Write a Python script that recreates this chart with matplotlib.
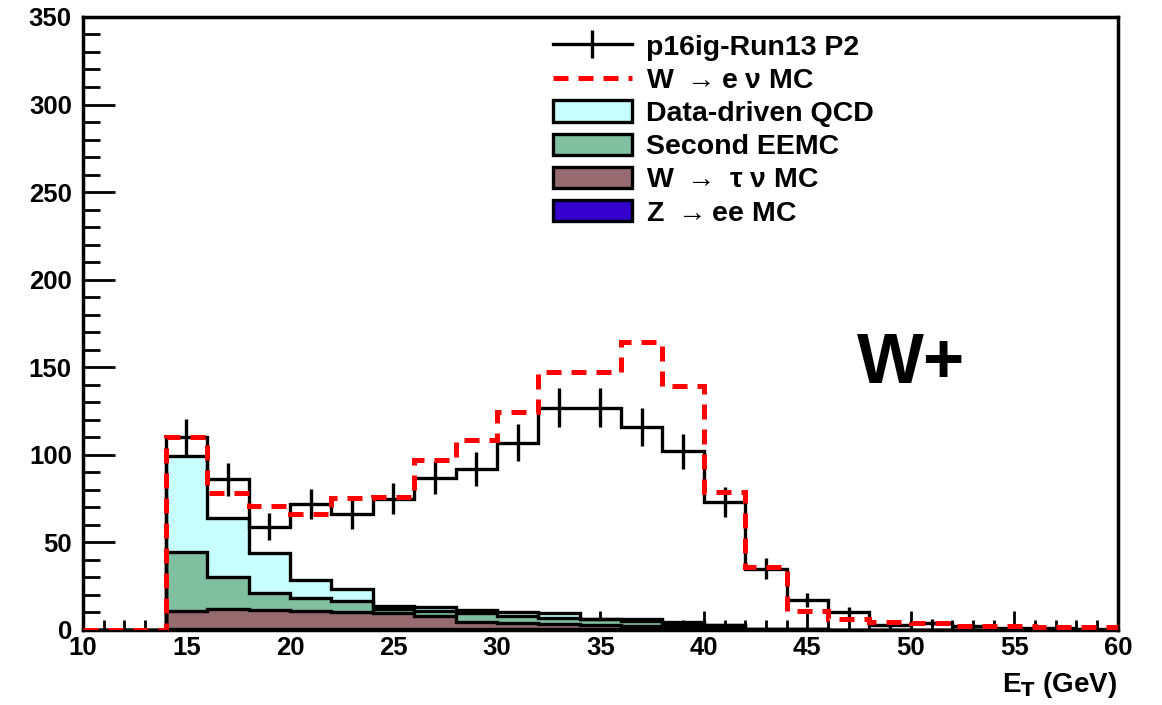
import numpy as np
import matplotlib.pyplot as plt
from matplotlib.lines import Line2D
from matplotlib.patches import Patch

plt.rcParams['font.family'] = ['Liberation Sans', 'DejaVu Sans']
plt.rcParams['font.weight'] = 'bold'
plt.rcParams['mathtext.default'] = 'regular'

# 2 GeV bins from 10 to 60
edges = np.arange(10, 62, 2)

data = [0, 0, 110, 86, 59, 72, 66, 75, 87, 92, 107, 127, 127, 116, 102, 73, 35,
        17, 10, 3, 4, 2, 1, 1, 0.5]
w_enu = [0, 0, 110, 78, 71, 66, 75.5, 76, 97, 108.5, 124.5, 147, 147.5, 164.5,
         139.5, 79, 36, 11, 6, 4.5, 3.8, 2, 2, 1.5, 1.5]
qcd = [0, 0, 55, 34, 23, 10.5, 7, 1.7, 2, 2, 2, 2.5, 0, 1, 1, 0, 0,
       0, 0, 0, 0, 0, 0, 0, 0]
eemc = [0, 0, 33.5, 18, 9.5, 7, 6, 2.5, 3, 5, 4, 3.5, 3, 2.5, 1.7, 1.7, 0,
        0, 0, 0, 0, 0, 0, 0, 0]
w_tau = [0, 0, 10.5, 11.5, 11, 10.5, 10, 9, 7.5, 4, 3.5, 3, 2.5, 2, 1.5, 1, 0.5,
         0.3, 0.1, 0, 0, 0, 0, 0, 0]
z_ee = [0, 0, 0.5, 0.5, 0.5, 0.5, 0.5, 0.5, 0.5, 0.5, 0.5, 0.5, 0.5, 0.5, 0.3, 0.3, 0.2,
        0.1, 0, 0, 0, 0, 0, 0, 0]

c_qcd = '#c8ffff'
c_eemc = '#80c0a0'
c_tau = '#966a6e'
c_z = '#3300cc'

fig = plt.figure(figsize=(11.62, 7.05), dpi=100)
ax = fig.add_axes([0.0714, 0.1064, 0.8906, 0.8696])

# stack: Z -> ee at the bottom, then W -> tau, second EEMC, QCD
z = np.array(z_ee)
tau = z + np.array(w_tau)
em = tau + np.array(eemc)
tot = em + np.array(qcd)
lw = 2.4
for vals, col in [(tot, c_qcd), (em, c_eemc), (tau, c_tau), (z, c_z)]:
    ax.stairs(vals, edges, fill=True, facecolor=col, edgecolor='none', zorder=2)
    ax.stairs(vals, edges, color='k', lw=lw, zorder=3)

d = np.array(data)
centers = 0.5 * (edges[:-1] + edges[1:])
ax.stairs(d, edges, color='k', lw=lw, zorder=4)
ax.errorbar(centers, d, yerr=np.sqrt(d), fmt='none', ecolor='k', elinewidth=lw,
            capsize=0, zorder=4)
ax.stairs(w_enu, edges, color='red', lw=3.6, ls=(0, (3, 2)), zorder=5)

ax.set_xlim(10, 60)
ax.set_ylim(0, 350)
ax.set_xticks(np.arange(10, 61, 5))
ax.set_xticks(np.arange(10, 61, 1), minor=True)
ax.set_yticks(np.arange(0, 351, 50))
ax.set_yticks(np.arange(0, 351, 10), minor=True)
ax.tick_params(axis='both', which='both', direction='in', width=2, labelsize=18.5)
ax.tick_params(axis='y', which='major', length=23, pad=8)
ax.tick_params(axis='y', which='minor', length=12)
ax.tick_params(axis='x', which='major', length=14, pad=4)
ax.tick_params(axis='x', which='minor', length=7)
for s in ax.spines.values():
    s.set_linewidth(2.5)

ax.text(0.80, 0.432, 'W+', transform=ax.transAxes, fontsize=51, fontweight='bold',
        ha='center', va='center')
fig.text(0.961, 0.007, r'E$_{\mathbf{T}}$ (GeV)', ha='right', va='bottom', fontsize=20,
         fontweight='bold')

handles = [
    Line2D([], [], color='k', lw=lw, marker='|', markersize=20, mew=lw),
    Line2D([], [], color='red', lw=3.6, ls=(0, (3, 2))),
    Patch(facecolor=c_qcd, edgecolor='k', lw=lw),
    Patch(facecolor=c_eemc, edgecolor='k', lw=lw),
    Patch(facecolor=c_tau, edgecolor='k', lw=lw),
    Patch(facecolor=c_z, edgecolor='k', lw=lw),
]
labels = ['p16ig-Run13 P2', r'W $\rightarrow$e $\nu$ MC', 'Data-driven QCD',
          'Second EEMC', r'W $\rightarrow$ $\tau$ $\nu$ MC', r'Z $\rightarrow$ee MC']
ax.legend(handles, labels, loc='upper left', bbox_to_anchor=(0.454, 0.972),
          frameon=False, fontsize=20.5, handlelength=2.77, handleheight=0.78,
          labelspacing=0.23, handletextpad=0.5, borderaxespad=0, borderpad=0)

fig.savefig('out.png', dpi=100)
